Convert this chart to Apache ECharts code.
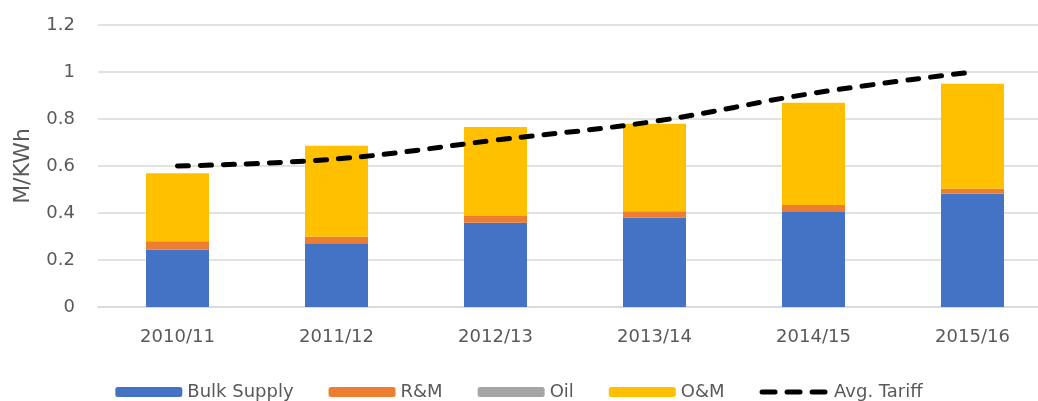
<!DOCTYPE html>
<html>
<head>
<meta charset="utf-8">
<script src="https://cdn.jsdelivr.net/npm/echarts@6/dist/echarts.min.js"></script>
<style>
html,body{margin:0;padding:0;background:#fff;}
#chart1{width:1038px;height:401px;}
</style>
</head>
<body>
<div id="chart1"></div>
<script>
// data
var years=['2010/11','2011/12','2012/13','2013/14','2014/15','2015/16'];
var bulkSupply=[0.245,0.271,0.359,0.380,0.407,0.482];
var rm=[0.035,0.028,0.028,0.027,0.027,0.021];
var oil=[0,0,0,0,0,0];
var om=[0.289,0.387,0.379,0.373,0.435,0.447];
var avgTariff=[0.60,0.63,0.71,0.79,0.91,1.00];
var yTicks=[0,0.2,0.4,0.6,0.8,1,1.2];

var chart1=echarts.init(document.getElementById('chart1'));
var font='"DejaVu Sans",sans-serif';
var dash={color:'#000',width:5,type:[11,12],cap:'round'};
var option={
    animation:false,
    color:['#4472c4','#ed7d31','#a5a5a5','#ffc000','#000000'],
    textStyle:{fontFamily:font},
    grid:{left:98,width:954,top:25,bottom:94,outerBoundsMode:'none'},
    legend:{
        top:378,
        left:'center',
        itemWidth:67,
        itemHeight:10,
        itemGap:35,
        textStyle:{fontFamily:font,fontSize:18,color:'#595959'},
        data:['Bulk Supply','R&M','Oil','O&M',
            {name:'Avg. Tariff',itemStyle:{opacity:0},lineStyle:{color:'#000',width:5,type:[13,12],cap:'round'}}]
    },
    xAxis:[{
        type:'category',
        data:years,
        axisTick:{show:false},
        axisLine:{lineStyle:{color:'#d9d9d9',width:1.5}},
        axisLabel:{fontFamily:font,fontSize:18,color:'#595959',margin:21}
    }],
    yAxis:[{
        type:'value',
        min:yTicks[0],
        max:yTicks[yTicks.length-1],
        interval:0.2,
        name:'M/KWh',
        nameLocation:'middle',
        nameGap:64,
        nameTextStyle:{fontFamily:font,fontSize:22,color:'#595959'},
        axisLine:{show:false},
        axisTick:{show:false},
        splitLine:{lineStyle:{color:'#d9d9d9',width:1.5}},
        axisLabel:{fontFamily:font,fontSize:18,color:'#595959',margin:23}
    }],
    series:[
        {name:'Bulk Supply',type:'bar',stack:'cost',barWidth:63,data:bulkSupply},
        {name:'R&M',type:'bar',stack:'cost',barWidth:63,data:rm},
        {name:'Oil',type:'bar',stack:'cost',barWidth:63,data:oil},
        {name:'O&M',type:'bar',stack:'cost',barWidth:63,data:om},
        {
            name:'Avg. Tariff',
            type:'line',
            smooth:0.4,
            symbol:'none',
            lineStyle:dash,
            data:avgTariff
        }
    ]
};
chart1.setOption(option);
</script>
</body>
</html>
